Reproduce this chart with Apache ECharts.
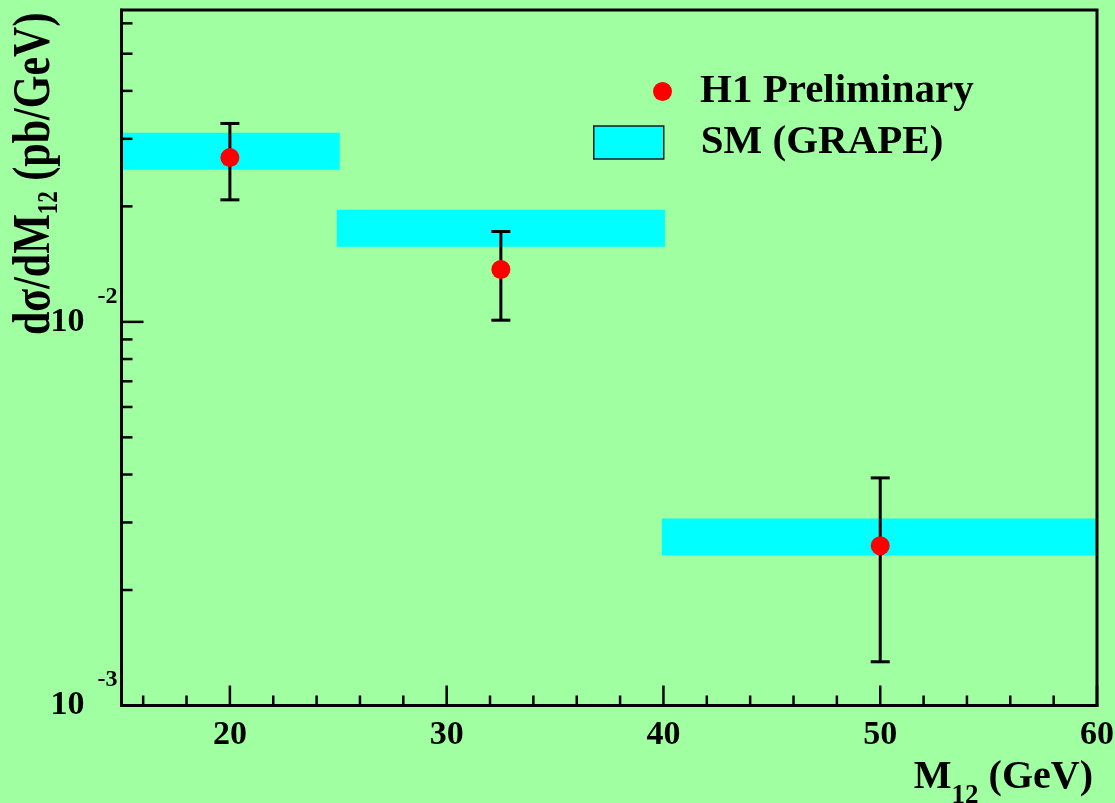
<!DOCTYPE html>
<html>
<head>
<meta charset="utf-8">
<script src="https://cdn.jsdelivr.net/npm/echarts@6/dist/echarts.min.js"></script>
<style>
html, body { margin: 0; padding: 0; background: #A0FFA0; }
#chart { width: 1115px; height: 803px; }
</style>
</head>
<body>
<div id="chart"></div>
<script>
// H1 preliminary: dσ/dM12 measured in three mass bins
const massPoints = [20, 32.5, 50];
const xsecValues = [0.0268, 0.0137, 0.00261];
const xsecErrUp = [0.0329, 0.0172, 0.00392];
const xsecErrDown = [0.0208, 0.0101, 0.00130];

// SM expectation (GRAPE) per bin: band between low and high
const binLow = [15, 25, 40];
const binHigh = [25, 40, 60];
const smLow = [0.0249, 0.0157, 0.00246];
const smHigh = [0.0311, 0.0196, 0.00307];

// axis tick positions
const xMajorTicks = [20, 30, 40, 50, 60];
const xMinorTicks = [16, 18, 22, 24, 26, 28, 32, 34, 36, 38, 42, 44, 46, 48, 52, 54, 56, 58];
const yMajorTicks = [0.001, 0.01];
const yMinorTicks = [0.002, 0.003, 0.004, 0.005, 0.006, 0.007, 0.008, 0.009,
                     0.02, 0.03, 0.04, 0.05, 0.06];

const X_MIN = 15, X_MAX = 60, Y_MIN = 0.001, Y_MAX = 0.065;
const FONT = '"Liberation Serif", "Times New Roman", serif';

const chart = echarts.init(document.getElementById('chart'), null, { renderer: 'canvas' });

function yTickSeries(values, len) {
  return {
    type: 'custom', silent: true, z: 20, clip: false,
    data: values.map(v => [X_MIN, v]),
    encode: { x: 0, y: 1 },
    renderItem: (params, api) => {
      const p = api.coord([api.value(0), api.value(1)]);
      return { type: 'line', shape: { x1: p[0], y1: p[1], x2: p[0] + len, y2: p[1] },
               style: { stroke: '#000', lineWidth: 2.5 } };
    }
  };
}
function xTickSeries(values, len) {
  return {
    type: 'custom', silent: true, z: 20, clip: false,
    data: values.map(v => [v, Y_MIN]),
    encode: { x: 0, y: 1 },
    renderItem: (params, api) => {
      const p = api.coord([api.value(0), api.value(1)]);
      return { type: 'line', shape: { x1: p[0], y1: p[1], x2: p[0], y2: p[1] - len },
               style: { stroke: '#000', lineWidth: 2.5 } };
    }
  };
}

const option = {
  backgroundColor: '#A0FFA0',
  animation: false,
  grid: {
    left: 121.5, right: 18, top: 10, bottom: 97.5,
    show: true, borderColor: '#000', borderWidth: 3, backgroundColor: 'transparent',
    z: 30, outerBoundsMode: 'none', containLabel: false
  },
  legend: [
    {
      left: 653, top: 70, padding: 0, orient: 'vertical', selectedMode: false,
      itemWidth: 19, itemHeight: 19,
      data: [{ name: 'H1 Preliminary', icon: 'circle', itemStyle: { color: '#FF0000', borderWidth: 0 } }],
      textStyle: { fontFamily: FONT, fontWeight: 'bold', fontSize: 41, color: '#000',
                   lineHeight: 40, padding: [3, 0, 0, 23] }
    },
    {
      left: 593, top: 121, padding: 0, orient: 'vertical', selectedMode: false,
      itemWidth: 70, itemHeight: 33,
      data: [{ name: 'SM (GRAPE)', icon: 'rect',
               itemStyle: { color: '#00FFFF', borderColor: '#1a1a1a', borderWidth: 1.5 } }],
      textStyle: { fontFamily: FONT, fontWeight: 'bold', fontSize: 41, color: '#000',
                   lineHeight: 40, padding: [3, 0, 0, 32] }
    }
  ],
  xAxis: {
    type: 'value', min: X_MIN, max: X_MAX, z: 30,
    axisLine: { show: true, onZero: false, lineStyle: { color: '#000', width: 3 } },
    axisTick: { show: false },
    splitLine: { show: false },
    minorTick: { show: false },
    axisLabel: {
      customValues: xMajorTicks, margin: 13, color: '#000',
      fontFamily: FONT, fontWeight: 'bold', fontSize: 34
    }
  },
  yAxis: {
    type: 'log', logBase: 10, min: Y_MIN, max: Y_MAX, z: 30,
    axisLine: { show: true, lineStyle: { color: '#000', width: 3 } },
    axisTick: { show: false },
    splitLine: { show: false },
    minorTick: { show: false },
    axisLabel: {
      margin: 4, color: '#000',
      formatter: (v) => {
        const e = Math.round(Math.log10(v));
        if (Math.abs(v - Math.pow(10, e)) / v > 1e-6) return '';
        return '{b|10}{s|' + e + '}';
      },
      rich: {
        b: { fontFamily: FONT, fontWeight: 'bold', fontSize: 34, lineHeight: 34, color: '#000', verticalAlign: 'middle' },
        s: { fontFamily: FONT, fontWeight: 'bold', fontSize: 24, lineHeight: 75, color: '#000',
             verticalAlign: 'top', padding: [0, 0, 51, 13] }
      }
    }
  },
  graphic: [
    {
      type: 'text', x: 1093, y: 758, silent: true,
      style: {
        text: '{m|M}{sub|12}{m| (GeV)}',
        align: 'right', verticalAlign: 'top', textAlign: 'right', textVerticalAlign: 'top',
        rich: {
          m: { fontFamily: FONT, fontWeight: 'bold', fontSize: 40, lineHeight: 44, fill: '#000', color: '#000', verticalAlign: 'top' },
          sub: { fontFamily: FONT, fontWeight: 'bold', fontSize: 27, lineHeight: 27, fill: '#000', color: '#000',
                 verticalAlign: 'top', padding: [25, 0, 0, 0] }
        }
      }
    },
    {
      type: 'text', x: 9, y: 335, rotation: Math.PI / 2, scaleY: 1.26, silent: true,
      style: {
        text: '{m|dσ/dM}{sub|12}{m| (pb/GeV)}',
        align: 'left', verticalAlign: 'top', textAlign: 'left', textVerticalAlign: 'top',
        rich: {
          m: { fontFamily: FONT, fontWeight: 'bold', fontSize: 42, lineHeight: 46, fill: '#000', color: '#000', verticalAlign: 'top' },
          sub: { fontFamily: FONT, fontWeight: 'bold', fontSize: 23, lineHeight: 23, fill: '#000', color: '#000',
                 verticalAlign: 'top', padding: [21, 0, 0, 0] }
        }
      }
    }
  ],
  series: [
    {
      name: 'SM (GRAPE)', type: 'custom', z: 2, clip: true,
      itemStyle: { color: '#00FFFF' },
      data: binLow.map((b, i) => [b, binHigh[i], smLow[i], smHigh[i]]),
      encode: { x: [0, 1], y: [2, 3] },
      renderItem: (params, api) => {
        const a = api.coord([api.value(0), api.value(3)]);
        const b = api.coord([api.value(1), api.value(2)]);
        return { type: 'rect',
                 shape: { x: a[0] - 1.5, y: a[1], width: b[0] - a[0] + 3, height: b[1] - a[1] },
                 style: { fill: api.visual('color') } };
      }
    },
    {
      name: 'errors', type: 'custom', z: 4, clip: false, silent: true,
      data: massPoints.map((m, i) => [m, xsecErrDown[i], xsecErrUp[i]]),
      encode: { x: 0, y: [1, 2] },
      renderItem: (params, api) => {
        const x = api.value(0);
        const lo = api.coord([x, api.value(1)]);
        const hi = api.coord([x, api.value(2)]);
        const hw = 9.5;
        const st = { stroke: '#000', lineWidth: 3 };
        return { type: 'group', children: [
          { type: 'line', shape: { x1: lo[0], y1: lo[1], x2: hi[0], y2: hi[1] }, style: st },
          { type: 'line', shape: { x1: hi[0] - hw, y1: hi[1], x2: hi[0] + hw, y2: hi[1] }, style: st },
          { type: 'line', shape: { x1: lo[0] - hw, y1: lo[1], x2: lo[0] + hw, y2: lo[1] }, style: st }
        ] };
      }
    },
    {
      name: 'H1 Preliminary', type: 'scatter', z: 6,
      symbol: 'circle', symbolSize: 19,
      itemStyle: { color: '#FF0000', borderWidth: 0, opacity: 1 },
      data: massPoints.map((m, i) => [m, xsecValues[i]])
    },
    yTickSeries(yMajorTicks, 22),
    yTickSeries(yMinorTicks, 11),
    xTickSeries(xMajorTicks, 20),
    xTickSeries(xMinorTicks, 10)
  ]
};

chart.setOption(option);
</script>
</body>
</html>
